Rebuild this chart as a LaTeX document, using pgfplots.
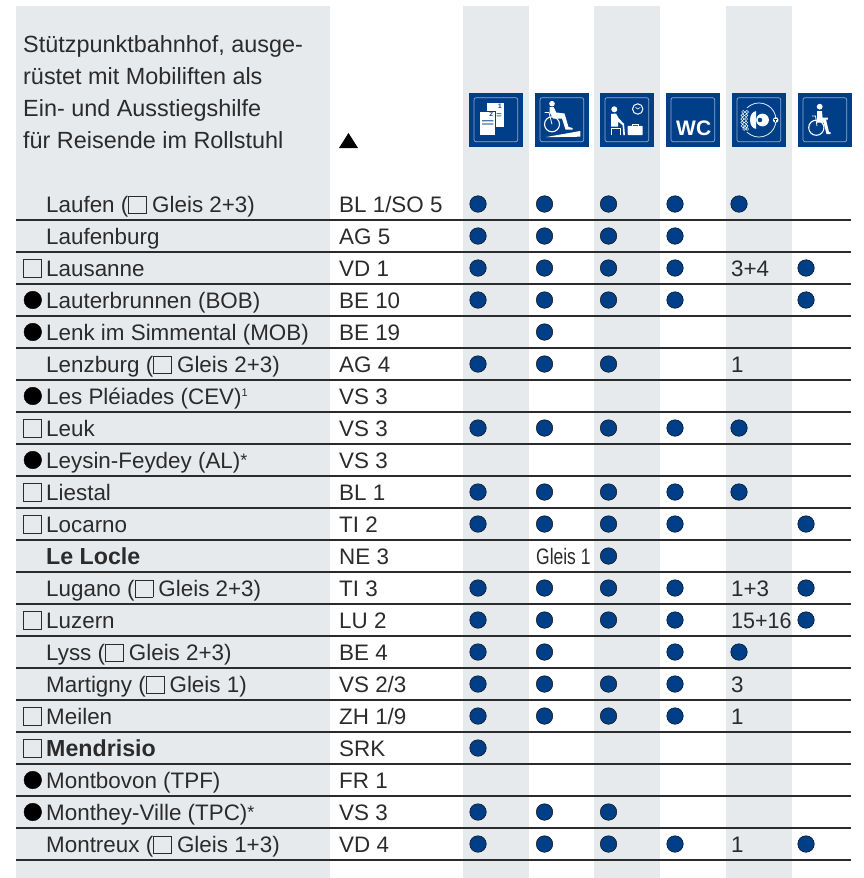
\documentclass[border=0pt]{standalone}
\usepackage{fontspec}
\setmainfont{Liberation Sans}
\usepackage{pgfplots}
\pgfplotsset{compat=1.18}

\definecolor{sbb}{HTML}{003F87}
\definecolor{frame}{HTML}{8FA9CB}
\definecolor{band}{HTML}{E7EAED}
\definecolor{ink}{HTML}{2B2B2B}

% open square inside running text
\newcommand{\sq}{\raisebox{-0.7pt}{\setlength{\fboxsep}{0pt}\setlength{\fboxrule}{0.8pt}\fbox{\rule{0pt}{16.2pt}\hspace{17.2pt}}}\hspace{5pt}}
% small raised asterisk
\newcommand{\smallast}{\raisebox{1.5pt}{\fontsize{18}{19}\selectfont *}}
% x, baseline y, text
\newcommand{\lab}[3]{\node[txt] at (axis cs:#1,#2) {#3};}
\newcommand{\hdr}[3]{\node[txt,font=\fontsize{23.4}{26}\selectfont] at (axis cs:#1,#2) {#3};}
% icon box at pixel position, body in local pixels
\newcommand{\icon}[3]{%
  \begin{scope}[shift={(axis cs:#1,#2)},x=1pt,y=-1pt]
    \fill[sbb] (0,0) rectangle (54,54);
    \draw[frame,line width=0.7pt,rounded corners=2pt] (5,4.7) rectangle (48.7,48.7);
    #3
  \end{scope}}

\pgfplotstableread{
x y
478 204
544.5 204
608.5 204
675 204
739 204
478 236
544.5 236
608.5 236
675 236
478 268
544.5 268
608.5 268
675 268
806 268
478 300
544.5 300
608.5 300
675 300
806 300
544.5 332
478 364
544.5 364
608.5 364
478 428
544.5 428
608.5 428
675 428
739 428
478 492
544.5 492
608.5 492
675 492
739 492
478 524
544.5 524
608.5 524
675 524
806 524
608.5 556
478 588
544.5 588
608.5 588
675 588
806 588
478 620
544.5 620
608.5 620
675 620
806 620
478 652
544.5 652
675 652
739 652
478 684
544.5 684
608.5 684
675 684
478 716
544.5 716
608.5 716
675 716
478 748
478 812
544.5 812
608.5 812
478 844
544.5 844
608.5 844
675 844
806 844
}\bluedots

\pgfplotstableread{
x y
32 268
32 428
32 492
32 524
32 620
32 716
32 748
}\squares

\pgfplotstableread{
x y
32.8 300
32.8 332
32.8 396
32.8 460
32.8 780
32.8 812
}\blackdots

\begin{document}
\begin{tikzpicture}[
  txt/.style={anchor=base west,inner sep=0pt,text=ink,font=\fontsize{22.4}{26}\selectfont},
]
\begin{axis}[
  scale only axis,
  width=864pt,
  height=878pt,
  xmin=0, xmax=864,
  ymin=0, ymax=878,
  y dir=reverse,
  hide axis,
  clip=false,
]
\path (axis cs:0,0) rectangle (axis cs:864,878);

% grey columns
\addplot[fill=band,draw=none] coordinates {(16,6) (330,6) (330,878) (16,878)} --cycle;
\addplot[fill=band,draw=none] coordinates {(463,6) (529,6) (529,878) (463,878)} --cycle;
\addplot[fill=band,draw=none] coordinates {(594,6) (660,6) (660,878) (594,878)} --cycle;
\addplot[fill=band,draw=none] coordinates {(726,6) (792,6) (792,878) (726,878)} --cycle;

% row rules
\addplot[ink,line width=1.1pt,unbounded coords=jump] coordinates {
  (16,220) (851,220) (nan,nan) (16,252) (851,252) (nan,nan) (16,284) (851,284) (nan,nan)
  (16,316) (851,316) (nan,nan) (16,348) (851,348) (nan,nan) (16,380) (851,380) (nan,nan)
  (16,412) (851,412) (nan,nan) (16,444) (851,444) (nan,nan) (16,476) (851,476) (nan,nan)
  (16,508) (851,508) (nan,nan) (16,540) (851,540) (nan,nan) (16,572) (851,572) (nan,nan)
  (16,604) (851,604) (nan,nan) (16,636) (851,636) (nan,nan) (16,668) (851,668) (nan,nan)
  (16,700) (851,700) (nan,nan) (16,732) (851,732) (nan,nan) (16,764) (851,764) (nan,nan)
  (16,796) (851,796) (nan,nan) (16,828) (851,828) (nan,nan) (16,860) (851,860)
};

% markers
\addplot[only marks,mark=*,mark size=8.3pt,mark options={fill=sbb,draw=none}] table[x=x,y=y] {\bluedots};
\addplot[only marks,mark=square,mark size=9pt,mark options={draw=ink,line width=0.8pt}] table[x=x,y=y] {\squares};
\addplot[only marks,mark=*,mark size=8.8pt,mark options={fill=black,draw=none}] table[x=x,y=y] {\blackdots};
\addplot[fill=black,draw=none] coordinates {(339,148) (358,148) (348.5,133)} --cycle;

% header
\hdr{23}{52}{Stützpunktbahnhof, ausge-}
\hdr{23}{84}{rüstet mit Mobiliften als}
\hdr{23}{116}{Ein- und Ausstiegshilfe}
\hdr{23}{148}{für Reisende im Rollstuhl}

% station names
\lab{46}{212}{Laufen (\sq Gleis 2+3)}
\lab{46}{244}{Laufenburg}
\lab{46}{276}{Lausanne}
\lab{46}{308}{Lauterbrunnen (BOB)}
\lab{46}{340}{Lenk im Simmental (MOB)}
\lab{46}{372}{Lenzburg (\sq Gleis 2+3)}
\lab{46}{404}{Les Pléiades (CEV)\raisebox{7.5pt}{\fontsize{11}{12}\selectfont 1}}
\lab{46}{436}{Leuk}
\lab{46}{468}{Leysin-Feydey (AL)\smallast}
\lab{46}{500}{Liestal}
\lab{46}{532}{Locarno}
\lab{46}{564}{\fontsize{23.2}{26}\selectfont\textbf{Le Locle}}
\lab{46}{596}{Lugano (\sq Gleis 2+3)}
\lab{46}{628}{Luzern}
\lab{46}{660}{Lyss (\sq Gleis 2+3)}
\lab{46}{692}{Martigny (\sq Gleis 1)}
\lab{46}{724}{Meilen}
\lab{46}{756}{\fontsize{23.2}{26}\selectfont\textbf{Mendrisio}}
\lab{46}{788}{Montbovon (TPF)}
\lab{46}{820}{Monthey-Ville (TPC)\smallast}
\lab{46}{852}{Montreux (\sq Gleis 1+3)}

% cantons
\lab{339}{212}{BL 1/SO 5}
\lab{339}{244}{AG 5}
\lab{339}{276}{VD 1}
\lab{339}{308}{BE 10}
\lab{339}{340}{BE 19}
\lab{339}{372}{AG 4}
\lab{339}{404}{VS 3}
\lab{339}{436}{VS 3}
\lab{339}{468}{VS 3}
\lab{339}{500}{BL 1}
\lab{339}{532}{TI 2}
\lab{339}{564}{NE 3}
\lab{339}{596}{TI 3}
\lab{339}{628}{LU 2}
\lab{339}{660}{BE 4}
\lab{339}{692}{VS 2/3}
\lab{339}{724}{ZH 1/9}
\lab{339}{756}{SRK}
\lab{339}{788}{FR 1}
\lab{339}{820}{VS 3}
\lab{339}{852}{VD 4}

% track numbers in the cells
\lab{731}{276}{3+4}
\lab{731}{372}{1}
\lab{731}{596}{1+3}
\node[txt,xscale=0.96] at (axis cs:731,628) {15+16};
\lab{731}{692}{3}
\lab{731}{724}{1}
\lab{731}{852}{1}
\node[txt,xscale=0.78] at (axis cs:536,564) {Gleis 1};

% pictograms
\icon{469}{93}{
  \fill[white] (18.3,10.3) rectangle (35,34.3);
  \fill[white,draw=sbb,line width=0.5pt] (10.3,18.3) rectangle (26.7,42.3);
  \node[text=sbb,font=\bfseries\fontsize{6.5}{7}\selectfont,inner sep=0pt] at (31,13.7) {1};
  \node[text=sbb,font=\bfseries\fontsize{6.5}{7}\selectfont,inner sep=0pt] at (22.3,21.7) {2};
  \fill[sbb!70] (13,27) rectangle (24.3,28.3) (13,30.3) rectangle (24.3,31.6);
  \fill[sbb!70] (27.7,20) rectangle (32.3,21) (27.7,22.3) rectangle (32.3,23.3);
}
\icon{535}{93}{
  \fill[white] (17,10.7) circle (2.8);
  \draw[white,line width=1.1pt] (17,31.3) circle (7.5);
  \fill[white] (14.5,14.2) -- (18.8,14.2) -- (21.2,19.5) -- (29.5,20.5) -- (33.5,34) -- (37.5,35) -- (37.5,36.5) -- (30.5,36.5) -- (27,25.5) -- (18,25.5) -- (14.5,19) -- cycle;
  \draw[white,line width=0.8pt] (9.5,19.5) -- (14,19.5) -- (17,31.3);
  \fill[white] (10.3,44.2) -- (45.3,38) -- (45.3,43.7) -- cycle;
}
\icon{600}{93}{
  \fill[white] (14.3,16.3) circle (3);
  \fill[white] (11,21) -- (16,20.5) -- (18.5,25) -- (24,31) -- (22.8,32.3) -- (18,28.5) -- (18,33.5) -- (11,33.5) -- cycle;
  \fill[white] (22.5,31) -- (24,30.5) -- (25,42) -- (23.3,42) -- cycle;
  \draw[white,line width=1pt] (11.8,42) -- (11.8,35) -- (20.5,35) -- (20.5,42);
  \draw[white,line width=1pt] (37.7,16) circle (5.2);
  \draw[white,line width=0.6pt] (37.7,16) -- (35.5,14.3) (37.7,16) -- (40.3,14.5);
  \fill[white,rounded corners=0.7pt] (27.7,32.8) rectangle (42.7,42);
  \draw[white,line width=0.8pt] (32.5,32.5) -- (32.5,31) -- (38,31) -- (38,32.5);
}
\icon{666}{93}{
  \node[anchor=base west,inner sep=0pt,text=white,font=\bfseries\fontsize{21}{24}\selectfont] at (10,42) {WC};
}
\icon{732}{93}{
  \draw[white,line width=0.7pt] (27,27) circle (17);
  \fill[sbb] (9,15) rectangle (17.2,39);
  \fill[white] (24,18.2) arc[start angle=-90,end angle=-270,x radius=6,y radius=8.8] -- cycle;
  \fill[white,even odd rule] (30.5,27) circle (6.4) (28,27) circle (2.4);
  \draw[white,line width=0.5pt]
    (11.2,19) circle (1.6) (14.8,19) circle (1.6)
    (10.6,22.5) circle (1.6) (14.2,22.5) circle (1.6)
    (10.4,26) circle (1.6) (14,26) circle (1.6)
    (10.4,29.5) circle (1.6) (14,29.5) circle (1.6)
    (10.8,33) circle (1.6) (14.4,33) circle (1.6)
    (12,36) circle (1.4) (15.2,36) circle (1.4);
  \fill[white] (43.7,27) circle (2.8);
  \draw[sbb,line width=0.5pt] (43.7,29.3) -- (43.7,26) (42.4,26) -- (45,26);
}
\icon{798}{93}{
  \fill[white] (21.7,13.7) circle (2.9);
  \draw[white,line width=1.1pt] (18.3,34.7) circle (7.6);
  \fill[white] (19,18) -- (24,18) -- (24.5,24.5) -- (29.8,24.5) -- (29.8,26.5) -- (28,26.5) -- (31,39) -- (32.5,39) -- (32.5,41) -- (28.5,41) -- (25.5,29.5) -- (19,29.5) -- cycle;
  \draw[white,line width=0.8pt] (14,23) -- (17.5,23) -- (19,33);
}
\end{axis}
\end{tikzpicture}
\end{document}
